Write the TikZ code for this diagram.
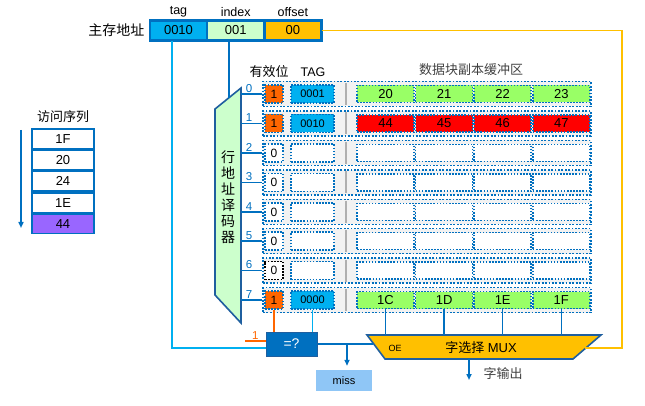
\documentclass[tikz,border=0pt]{standalone}
\usepackage{fontspec}
\setmainfont{Liberation Sans}
\newfontfamily\cjk{Noto Sans CJK SC}
\usetikzlibrary{positioning,arrows.meta}

\definecolor{dblue}{HTML}{0070C0}
\definecolor{navy}{HTML}{1F5F9F}
\definecolor{tblue}{HTML}{00B0F0}
\definecolor{igreen}{HTML}{CCFFCC}
\definecolor{oyellow}{HTML}{FFC000}
\definecolor{vorange}{HTML}{FF6600}
\definecolor{dgreen}{HTML}{99FF66}
\definecolor{dred}{HTML}{FF0000}
\definecolor{vpurple}{HTML}{9966FF}
\definecolor{missblue}{HTML}{8FC6F6}
\definecolor{rowgray}{HTML}{F2F2F2}
\definecolor{bargray}{HTML}{AFAFAF}
\definecolor{hdgray}{HTML}{404040}

\begin{document}
\begin{tikzpicture}[x=1pt, y=-1pt, >={Triangle[length=6pt,width=5pt]}]

% Styles
\tikzstyle{addr}    = [draw=dblue, line width=1.2pt, minimum width=56, minimum height=19, inner sep=0pt, font=\fontsize{13}{15}\selectfont]
\tikzstyle{seqbox}  = [draw=dblue, line width=1.6pt, fill=white, minimum width=62, minimum height=19.6, inner sep=0pt, font=\fontsize{13}{15}\selectfont]
\tikzstyle{rowbox}  = [draw=dblue, line width=1.8pt, dash pattern=on 1.8pt off 1.6pt, fill=rowgray, minimum width=328, minimum height=25, inner sep=0pt]
\tikzstyle{vbit}    = [draw=dblue, line width=1.6pt, dash pattern=on 1.6pt off 1.5pt, fill=white, minimum width=18, minimum height=18, inner sep=0pt, font=\fontsize{12}{14}\selectfont]
\tikzstyle{tagcell} = [draw=dblue, line width=1.6pt, dash pattern=on 1.6pt off 1.5pt, fill=white, minimum width=43, minimum height=18, inner sep=0pt, font=\fontsize{11}{13}\selectfont]
\tikzstyle{sepbar}  = [fill=bargray, minimum width=2.5, minimum height=22, inner sep=0pt]
\tikzstyle{datacell}= [draw=dblue, line width=1.6pt, dash pattern=on 1.6pt off 1.5pt, fill=white, minimum width=57, minimum height=17, inner sep=0pt, font=\fontsize{13}{15}\selectfont]
\tikzstyle{lbl}     = [font=\fontsize{12.5}{14}\selectfont]
\tikzstyle{cjklbl}  = [font=\cjk\fontsize{13}{15}\selectfont]
\tikzstyle{num}     = [font=\fontsize{11.5}{13}\selectfont, inner sep=1pt]
\tikzstyle{wire}    = [dblue, line width=1.5pt]
\tikzstyle{tagwire} = [tblue, line width=1.5pt]
\tikzstyle{vwire}   = [vorange, line width=1.5pt]
\tikzstyle{offwire} = [oyellow, line width=1.8pt]

\useasboundingbox (0,0) rectangle (645,406);

% Main memory address
\node [addr, fill=tblue] (tag) at (178.5,30.5) {0010};
\node [addr, fill=igreen, right=0pt of tag] (index) {001};
\node [addr, fill=oyellow, right=0pt of index] (offset) {00};
\draw [dblue, line width=2.4pt] (tag.north west) rectangle (offset.south east);
\node [lbl, above=0pt of tag] (ltag) {tag};
\node [lbl, above=0pt of index] (lindex) {index};
\node [lbl, above=0pt of offset] (loffset) {offset};
\node [font=\cjk\fontsize{14}{16}\selectfont, left=2pt of tag] (addrlbl) {主存地址};

% Access sequence
\node [seqbox] (s1) at (63,139) {1F};
\node [seqbox, below=0pt of s1] (s2) {20};
\node [seqbox, below=0pt of s2] (s3) {24};
\node [seqbox, below=0pt of s3] (s4) {1E};
\node [seqbox, fill=vpurple, below=0pt of s4] (s5) {44};
\node [cjklbl, above=2pt of s1] (seqlbl) {访问序列};
\coordinate (qa) at (21,130);
\coordinate (qb) at (21,228);
\draw [wire, ->] (qa) -- (qb);

% Headers
\node [cjklbl] (hvalid) at (269,72) {有效位};
\node [lbl] (htag) at (313,72) {TAG};
\node [cjklbl, text=hdgray] (hdata) at (471,70) {数据块副本缓冲区};

% Row 0
\node [rowbox] (r0) at (427,94) {};
\node [vbit, fill=vorange] (v0) at (274,94) {1};
\node [tagcell, fill=tblue] (t0) at (312.5,94) {0001};
\node [sepbar] (b0) at (346,94) {};
\node [datacell, fill=dgreen] (d00) at (385.5,94) {20};
\node [datacell, fill=dgreen, right=0pt of d00] (d01) {21};
\node [datacell, fill=dgreen, right=0pt of d01] (d02) {22};
\node [datacell, fill=dgreen, right=0pt of d02] (d03) {23};

% Row 1
\node [rowbox] (r1) at (427,123.5) {};
\node [vbit, fill=vorange] (v1) at (274,123.5) {1};
\node [tagcell, fill=tblue] (t1) at (312.5,123.5) {0010};
\node [sepbar] (b1) at (346,123.5) {};
\node [datacell, fill=dred] (d10) at (385.5,123.5) {44};
\node [datacell, fill=dred, right=0pt of d10] (d11) {45};
\node [datacell, fill=dred, right=0pt of d11] (d12) {46};
\node [datacell, fill=dred, right=0pt of d12] (d13) {47};

% Row 2
\node [rowbox] (r2) at (427,153) {};
\node [vbit] (v2) at (274,153) {0};
\node [tagcell] (t2) at (312.5,153) {};
\node [sepbar] (b2) at (346,153) {};
\node [datacell] (d20) at (385.5,153) {};
\node [datacell, right=0pt of d20] (d21) {};
\node [datacell, right=0pt of d21] (d22) {};
\node [datacell, right=0pt of d22] (d23) {};

% Row 3
\node [rowbox] (r3) at (427,182.5) {};
\node [vbit] (v3) at (274,182.5) {0};
\node [tagcell] (t3) at (312.5,182.5) {};
\node [sepbar] (b3) at (346,182.5) {};
\node [datacell] (d30) at (385.5,182.5) {};
\node [datacell, right=0pt of d30] (d31) {};
\node [datacell, right=0pt of d31] (d32) {};
\node [datacell, right=0pt of d32] (d33) {};

% Row 4
\node [rowbox] (r4) at (427,212) {};
\node [vbit] (v4) at (274,212) {0};
\node [tagcell] (t4) at (312.5,212) {};
\node [sepbar] (b4) at (346,212) {};
\node [datacell] (d40) at (385.5,212) {};
\node [datacell, right=0pt of d40] (d41) {};
\node [datacell, right=0pt of d41] (d42) {};
\node [datacell, right=0pt of d42] (d43) {};

% Row 5
\node [rowbox] (r5) at (427,241) {};
\node [vbit] (v5) at (274,241) {0};
\node [tagcell] (t5) at (312.5,241) {};
\node [sepbar] (b5) at (346,241) {};
\node [datacell] (d50) at (385.5,241) {};
\node [datacell, right=0pt of d50] (d51) {};
\node [datacell, right=0pt of d51] (d52) {};
\node [datacell, right=0pt of d52] (d53) {};

% Row 6
\node [rowbox] (r6) at (427,270.5) {};
\node [vbit, draw=black] (v6) at (274,270.5) {0};
\node [tagcell] (t6) at (312.5,270.5) {};
\node [sepbar] (b6) at (346,270.5) {};
\node [datacell] (d60) at (385.5,270.5) {};
\node [datacell, right=0pt of d60] (d61) {};
\node [datacell, right=0pt of d61] (d62) {};
\node [datacell, right=0pt of d62] (d63) {};

% Row 7
\node [rowbox] (r7) at (427,300) {};
\node [vbit, fill=vorange] (v7) at (274,300) {1};
\node [tagcell, fill=tblue] (t7) at (312.5,300) {0000};
\node [sepbar] (b7) at (346,300) {};
\node [datacell, fill=dgreen] (d70) at (385.5,300) {1C};
\node [datacell, fill=dgreen, right=0pt of d70] (d71) {1D};
\node [datacell, fill=dgreen, right=0pt of d71] (d72) {1E};
\node [datacell, fill=dgreen, right=0pt of d72] (d73) {1F};

% Row address decoder
\coordinate (dtl) at (215,109);
\coordinate (dtr) at (241,88);
\coordinate (dbr) at (241,323);
\coordinate (dbl) at (215,295);
\coordinate (dtop) at (229,98);
\draw [fill=igreen, draw=navy, line width=1.6pt] (dtl) -- (dtr) -- (dbr) -- (dbl) -- cycle;
\node [align=center, font=\cjk\fontsize{14}{16}\selectfont] (dec) at (228,197) {行\\地\\址\\译\\码\\器};
\draw [wire] (dtop |- index.south) -- (dtop);

% Decoder outputs
\draw [wire] (r0.west -| dtr) -- node[num, above, pos=0.38] {0} (r0.west);
\draw [wire] (r1.west -| dtr) -- node[num, above, pos=0.38] {1} (r1.west);
\draw [wire] (r2.west -| dtr) -- node[num, above, pos=0.38] {2} (r2.west);
\draw [wire] (r3.west -| dtr) -- node[num, above, pos=0.38] {3} (r3.west);
\draw [wire] (r4.west -| dtr) -- node[num, above, pos=0.38] {4} (r4.west);
\draw [wire] (r5.west -| dtr) -- node[num, above, pos=0.38] {5} (r5.west);
\draw [wire] (r6.west -| dtr) -- node[num, above, pos=0.38] {6} (r6.west);
\draw [wire] (r7.west -| dtr) -- node[num, above, pos=0.38] {7} (r7.west);

% Comparator
\node [fill=dblue, draw=navy, line width=1pt, minimum width=51, minimum height=24, inner sep=0pt, text=white, font=\fontsize{14}{16}\selectfont] (cmp) at (291.5,344) {=?};
\draw [vwire] (v7.south) -- (v7.south |- cmp.north);
\draw [tagwire] (t7.south) -- (t7.south |- cmp.north);
\coordinate (one) at (245,341);
\draw [vwire] (one) -- node[num, above] {1} (one -| cmp.west);
\coordinate (tagdn) at (172,348);
\draw [tagwire] (tagdn |- tag.south) -- (tagdn) -- (tagdn -| cmp.west);

% Word select MUX
\coordinate (mtl) at (367,335);
\coordinate (mtr) at (601,335);
\coordinate (mbr) at (573,359);
\coordinate (mbl) at (385,359);
\draw [fill=oyellow, draw=navy, line width=1.6pt] (mtl) -- (mtr) -- (mbr) -- (mbl) -- cycle;
\node [font=\fontsize{9}{11}\selectfont] (oe) at (395,348) {OE};
\node [font=\fontsize{13}{15}\selectfont] (mux) at (481,348) {{\cjk 字选择} MUX};
\draw [wire] (d70.south) -- (d70.south |- mtl);
\draw [wire] (d71.south) -- (d71.south |- mtl);
\draw [wire] (d72.south) -- (d72.south |- mtl);
\draw [wire] (d73.south) -- (d73.south |- mtl);

% Hit / miss
\coordinate (min) at (373,344);
\coordinate (br) at (347,344);
\draw [wire] (cmp.east) -- (min);
\node [fill=missblue, minimum width=56, minimum height=21, inner sep=0pt, font=\fontsize{11}{13}\selectfont] (miss) at (344,380.5) {miss};
\draw [wire, ->, shorten >=4pt] (br) -- (br |- miss.north);

% Word output
\coordinate (mout) at (469,359);
\coordinate (wend) at (469,380);
\draw [wire, ->] (mout) -- (wend);
\node [cjklbl, text=hdgray] (wout) at (503,374) {字输出};

% Offset to MUX
\coordinate (rt) at (622,348);
\coordinate (mr) at (585,348);
\draw [offwire] (offset.east) -| (rt) -- (mr);

\end{tikzpicture}
\end{document}
